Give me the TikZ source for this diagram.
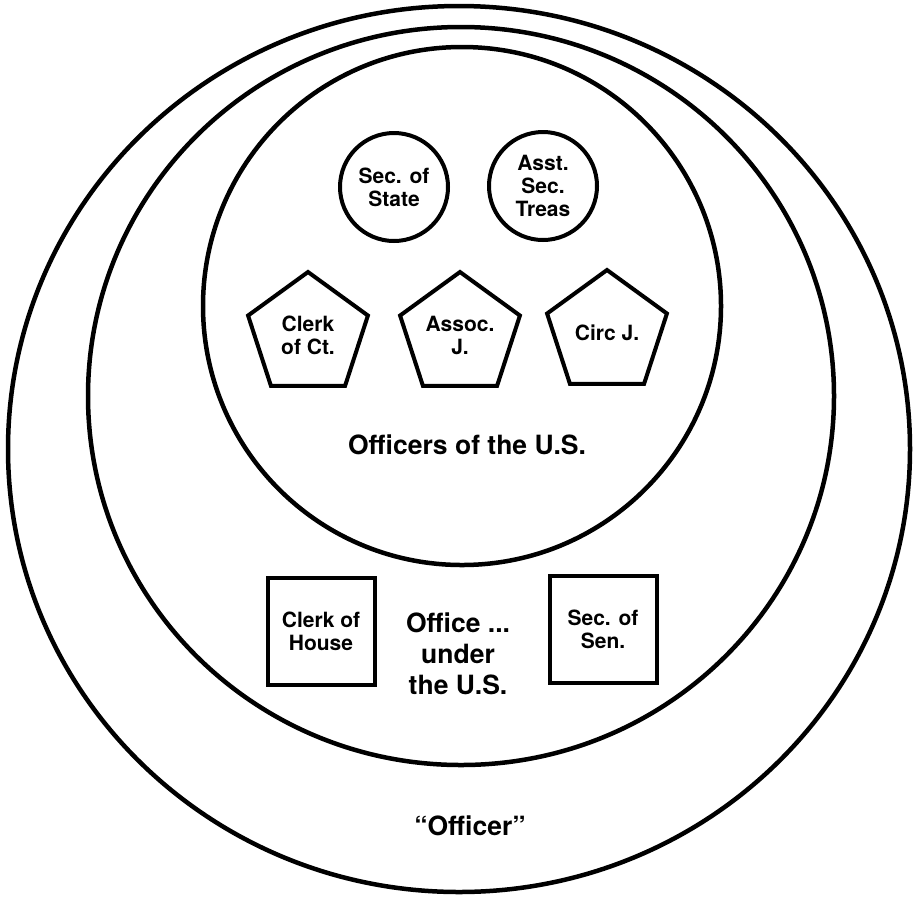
\documentclass[tikz,border=0pt]{standalone}
\usepackage{fontspec}
\setmainfont{TeX Gyre Heros}
\usepackage{tikz}
\usetikzlibrary{shapes.geometric}
\newcommand{\smalllbl}{\fontsize{21}{23}\selectfont\bfseries}
\newcommand{\biglbl}{\fontsize{26.5}{31}\selectfont\bfseries}

\begin{document}
\begin{tikzpicture}[x=1pt, y=-1pt,
  ring/.style={line width=4.5pt},
  roundbox/.style={draw, circle, line width=4pt, minimum size=108pt,
    inner sep=0pt, align=center, font=\smalllbl},
  pentbox/.style={draw, regular polygon, regular polygon sides=5, line width=4pt,
    minimum size=126pt, inner sep=0pt, align=center, font=\smalllbl},
  sqbox/.style={draw, rectangle, line width=4pt, minimum size=107pt,
    inner sep=0pt, align=center, font=\smalllbl},
  setlbl/.style={align=center, font=\biglbl},
]
\useasboundingbox (0,0) rectangle (917,898);
\draw[ring] (459,449) ellipse[x radius=451pt, y radius=443pt];
\draw[ring] (461,396) ellipse[x radius=373pt, y radius=369pt];
\draw[ring] (462,306) circle[radius=259pt];
\node[roundbox] (secstate) at (394,187) {Sec. of\\State};
\node[roundbox] (asstsec) at (543,186) {Asst.\\Sec.\\Treas};
\node[pentbox] (clerkct) at (308,335) {Clerk\\of Ct.};
\node[pentbox] (assocj) at (460,335) {Assoc.\\J.};
\node[pentbox] (circj) at (607,333) {Circ J.};
\node[setlbl] (officers) at (467,445) {Officers of the U.S.};
\node[sqbox] (clerkhouse) at (321,631) {Clerk of\\House};
\node[sqbox] (secsen) at (603,629) {Sec. of\\Sen.};
\node[setlbl] (office) at (458,654) {Office ...\\under\\the U.S.};
\node[setlbl] (officer) at (470,826) {“Officer”};
\end{tikzpicture}
\end{document}
